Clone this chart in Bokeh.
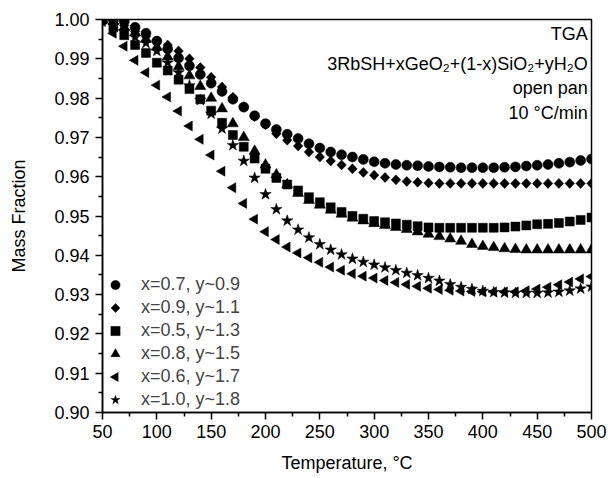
from bokeh.plotting import figure
from bokeh.models import (Range1d, FixedTicker, PrintfTickFormatter, Legend, LegendItem, Label,
                          ColumnDataSource, CustomJS)
from bokeh.embed import file_html
from bokeh.resources import INLINE

# ---------------- data ----------------
temperature = [50, 60, 70, 80, 90, 100, 110, 120, 130, 140, 150, 160, 170, 180, 190, 200,
               210, 220, 230, 240, 250, 260, 270, 280, 290, 300, 310, 320, 330, 340, 350,
               360, 370, 380, 390, 400, 410, 420, 430, 440, 450, 460, 470, 480, 490, 500]

mf_x07 = [1.0000, 1.0000, 0.9995, 0.9980, 0.9965, 0.9945, 0.9925, 0.9902, 0.9882, 0.9860,
          0.9838, 0.9817, 0.9797, 0.9777, 0.9755, 0.9735, 0.9720, 0.9708, 0.9697, 0.9684,
          0.9673, 0.9663, 0.9656, 0.9650, 0.9644, 0.9638, 0.9634, 0.9631, 0.9629, 0.9628,
          0.9626, 0.9625, 0.9624, 0.9623, 0.9623, 0.9623, 0.9623, 0.9624, 0.9625, 0.9627,
          0.9629, 0.9631, 0.9634, 0.9637, 0.9641, 0.9645]

mf_x09 = [1.0000, 0.9995, 0.9985, 0.9970, 0.9957, 0.9945, 0.9935, 0.9920, 0.9900, 0.9878,
          0.9853, 0.9828, 0.9802, 0.9778, 0.9753, 0.9732, 0.9709, 0.9693, 0.9678, 0.9663,
          0.9650, 0.9640, 0.9630, 0.9620, 0.9611, 0.9604, 0.9598, 0.9592, 0.9588, 0.9586,
          0.9584, 0.9583, 0.9583, 0.9583, 0.9583, 0.9583, 0.9583, 0.9583, 0.9583, 0.9583,
          0.9583, 0.9583, 0.9583, 0.9583, 0.9583, 0.9583]

mf_x05 = [1.0000, 0.9980, 0.9960, 0.9935, 0.9915, 0.9890, 0.9870, 0.9847, 0.9823, 0.9797,
          0.9768, 0.9737, 0.9706, 0.9676, 0.9646, 0.9620, 0.9597, 0.9580, 0.9565, 0.9548,
          0.9535, 0.9522, 0.9510, 0.9500, 0.9493, 0.9487, 0.9484, 0.9481, 0.9478, 0.9474,
          0.9471, 0.9470, 0.9470, 0.9470, 0.9470, 0.9470, 0.9470, 0.9471, 0.9473, 0.9476,
          0.9479, 0.9480, 0.9482, 0.9486, 0.9490, 0.9496]

mf_x08 = [1.0000, 0.9995, 0.9980, 0.9967, 0.9950, 0.9930, 0.9905, 0.9880, 0.9857, 0.9830,
          0.9800, 0.9773, 0.9735, 0.9700, 0.9665, 0.9630, 0.9605, 0.9580, 0.9558, 0.9540,
          0.9528, 0.9515, 0.9505, 0.9495, 0.9488, 0.9481, 0.9476, 0.9471, 0.9466, 0.9460,
          0.9454, 0.9448, 0.9442, 0.9436, 0.9428, 0.9423, 0.9420, 0.9417, 0.9415, 0.9414,
          0.9414, 0.9414, 0.9414, 0.9414, 0.9414, 0.9414]

mf_x06 = [0.9995, 0.9965, 0.9932, 0.9896, 0.9865, 0.9833, 0.9803, 0.9767, 0.9729, 0.9695,
          0.9655, 0.9614, 0.9572, 0.9532, 0.9492, 0.9460, 0.9440, 0.9421, 0.9406, 0.9394,
          0.9382, 0.9370, 0.9362, 0.9353, 0.9347, 0.9342, 0.9336, 0.9331, 0.9326, 0.9321,
          0.9316, 0.9313, 0.9311, 0.9309, 0.9308, 0.9307, 0.9307, 0.9307, 0.9307, 0.9310,
          0.9314, 0.9319, 0.9325, 0.9332, 0.9340, 0.9346]

mf_x10 = [1.0000, 0.9985, 0.9970, 0.9955, 0.9940, 0.9920, 0.9890, 0.9865, 0.9832, 0.9795,
          0.9760, 0.9722, 0.9680, 0.9640, 0.9597, 0.9555, 0.9517, 0.9488, 0.9465, 0.9445,
          0.9428, 0.9414, 0.9402, 0.9391, 0.9383, 0.9376, 0.9369, 0.9362, 0.9355, 0.9349,
          0.9342, 0.9335, 0.9326, 0.9319, 0.9314, 0.9309, 0.9306, 0.9305, 0.9304, 0.9304,
          0.9304, 0.9305, 0.9307, 0.9310, 0.9315, 0.9320]

series_labels = ["x=0.7, y~0.9", "x=0.9, y~1.1", "x=0.5, y~1.3",
                 "x=0.8, y~1.5", "x=0.6, y~1.7", "x=1.0, y~1.8"]

x_ticks = [50, 100, 150, 200, 250, 300, 350, 400, 450, 500]
x_minor = [75, 125, 175, 225, 275, 325, 375, 425, 475]
y_ticks = [0.90, 0.91, 0.92, 0.93, 0.94, 0.95, 0.96, 0.97, 0.98, 0.99, 1.00]
y_minor = [0.905, 0.915, 0.925, 0.935, 0.945, 0.955, 0.965, 0.975, 0.985, 0.995]

annotation_lines = ["TGA", "3RbSH+xGeO\u2082+(1-x)SiO\u2082+yH\u2082O", "open pan", "10 \u00b0C/min"]
annotation_y = [0.9963, 0.9886, 0.9825, 0.9761]

FONT = "Liberation Sans"

# custom marker shapes (left-pointing triangle, square-cornered diamond)
JS_HEAD = """
try {
  const d = (typeof cb_data !== "undefined" && cb_data) ? cb_data : {};
  let ctx = d.ctx || d.context || null;
  if (ctx == null) { for (const k in d) { const v = d[k]; if (v && typeof v.moveTo === "function") { ctx = v; } } }
  let r = (d.r !== undefined) ? d.r : ((d.radius !== undefined) ? d.radius : ((d.size !== undefined) ? d.size / 2 : null));
  if (r == null) { for (const k in d) { if (typeof d[k] === "number" && k !== "i") { r = d[k]; } } }
  if (ctx && r) {
    ctx.beginPath();
"""
JS_TAIL = """
    ctx.closePath();
    ctx.fillStyle = "#000000";
    ctx.fill();
    ctx.strokeStyle = "#000000";
    ctx.lineWidth = 0.5;
    ctx.stroke();
  }
} catch (err) {}
"""
LEFT_TRI = CustomJS(code=JS_HEAD + """
    ctx.moveTo(-1.155 * r, 0);
    ctx.lineTo(0.577 * r, -r);
    ctx.lineTo(0.577 * r, r);
""" + JS_TAIL)
DIAMOND = CustomJS(code=JS_HEAD + """
    ctx.moveTo(0, -r);
    ctx.lineTo(r * 0.95, 0);
    ctx.lineTo(0, r);
    ctx.lineTo(-r * 0.95, 0);
""" + JS_TAIL)
marker_defs = {"@left_triangle": LEFT_TRI, "@diamond_eq": DIAMOND}

# ---------------- figure ----------------
p = figure(width=608, height=478, output_backend="svg", toolbar_location=None,
           x_range=Range1d(50, 500), y_range=Range1d(0.90, 1.00),
           min_border_left=102, min_border_right=17, min_border_top=19, min_border_bottom=66)
p.background_fill_color = "white"
p.border_fill_color = "white"
p.xgrid.visible = False
p.ygrid.visible = False
p.outline_line_color = "black"
p.outline_line_width = 1.5

p.xaxis.ticker = FixedTicker(ticks=x_ticks, minor_ticks=x_minor)
p.yaxis.ticker = FixedTicker(ticks=y_ticks, minor_ticks=y_minor)
p.yaxis.formatter = PrintfTickFormatter(format="%.2f")

for ax in (p.xaxis[0], p.yaxis[0]):
    ax.axis_line_color = "black"
    ax.axis_line_width = 1.5
    ax.major_tick_line_color = "black"
    ax.minor_tick_line_color = "black"
    ax.major_tick_line_width = 1.5
    ax.minor_tick_line_width = 1.5
    ax.major_tick_out = 7
    ax.major_tick_in = 0
    ax.minor_tick_out = 4
    ax.minor_tick_in = 0
    ax.major_label_text_font = FONT
    ax.major_label_text_font_size = "18px"
    ax.major_label_text_color = "black"
    ax.axis_label_text_font = FONT
    ax.axis_label_text_font_size = "18px"
    ax.axis_label_text_font_style = "normal"
    ax.axis_label_text_color = "black"

p.xaxis.axis_label = "Temperature, \u00b0C"
p.yaxis.axis_label = "Mass Fraction"
p.xaxis.major_label_standoff = 5
p.xaxis.axis_label_standoff = 12
p.yaxis.major_label_standoff = 6
p.yaxis.axis_label_standoff = 22

series = [mf_x07, mf_x09, mf_x05, mf_x08, mf_x06, mf_x10]
markers = ["circle", "@diamond_eq", "square", "triangle", "@left_triangle", "star"]
sizes = [10, 10, 9, 11, 10, 12]

items = []
for vals, mk, sz, lab in zip(series, markers, sizes, series_labels):
    src = ColumnDataSource(dict(t=temperature, m=vals, mk=[mk] * len(temperature)))
    if mk.startswith("@"):
        r = p.scatter("t", "m", source=src, marker="mk", size=sz, defs=marker_defs,
                      fill_color="black", line_color="black", line_width=0.5)
    else:
        r = p.scatter("t", "m", source=src, marker=mk, size=sz,
                      fill_color="black", line_color="black", line_width=0.5)
    items.append(LegendItem(label=lab, renderers=[r]))

legend = Legend(items=items, location=(0, 1), padding=3, margin=0, spacing=0,
                glyph_width=26, glyph_height=23, label_height=23, label_standoff=13,
                label_text_font=FONT, label_text_font_size="18px",
                border_line_color=None, background_fill_alpha=0)
p.add_layout(legend, "center")

for txt, yy in zip(annotation_lines, annotation_y):
    p.add_layout(Label(x=496.6, y=yy, text=txt, text_align="right", text_baseline="middle",
                       text_font=FONT, text_font_size="18px", text_color="black"))

open("out.html", "w").write(file_html(p, INLINE))
